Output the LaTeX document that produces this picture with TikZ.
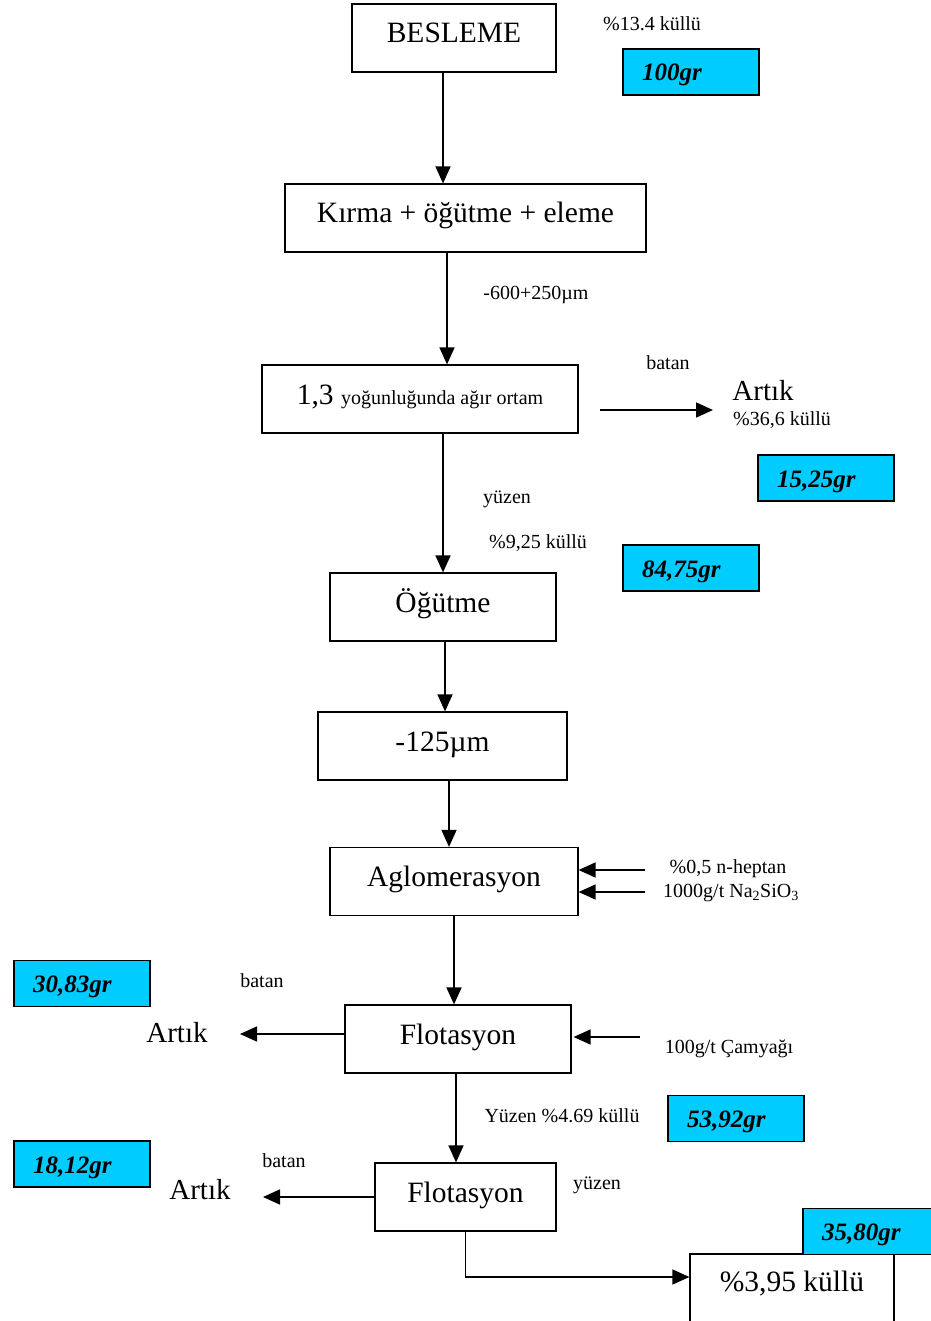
\documentclass[tikz,border=0pt]{standalone}
\usepackage{fontspec}
\setmainfont{Liberation Serif}
\usetikzlibrary{arrows.meta}
\definecolor{gcyan}{HTML}{00CCFF}

\tikzset{
  box/.style={draw, line width=1.2pt, minimum height=68pt, inner sep=0pt,
    text height=20pt, text depth=10pt, font=\fontsize{29.5}{31}\selectfont},
  wt/.style={draw, line width=1.2pt, fill=gcyan, inner xsep=19pt, inner ysep=14pt,
    text width=98pt, align=left, text height=18pt, text depth=0pt,
    font=\fontsize{25}{27}\selectfont\bfseries\itshape},
  lbl/.style={inner sep=0pt, font=\fontsize{20}{22}\selectfont},
  big/.style={inner sep=0pt, font=\fontsize{29}{31}\selectfont},
  arr/.style={-{Triangle[length=17pt,width=15pt]}, line width=1.5pt},
}

\begin{document}
\begin{tikzpicture}[x=1pt,y=-1pt]
  \useasboundingbox (0,0) rectangle (930,1321);

    % process boxes
    \node[box, minimum width=204pt] (besleme) at (454,38) {BESLEME};
    \node[box, minimum width=361pt] (kirma) at (465.5,218) {Kırma + öğütme + eleme};
    \node[box, minimum width=316pt] (agir) at (420,399)
      {1,3 {\fontsize{20}{22}\selectfont yoğunluğunda ağır ortam}};
    \node[box, minimum width=226pt] (ogutme) at (443,607) {Öğütme};
    \node[box, minimum width=249pt] (elek) at (442.5,746) {-125µm};
    \node[box, minimum width=248pt] (aglo) at (454,881.5) {Aglomerasyon};
    \node[box, minimum width=226pt] (flot1) at (458,1039) {Flotasyon};
    \node[box, minimum width=181pt] (flot2) at (465.5,1197) {Flotasyon};
    \node[box, minimum width=204pt, minimum height=70pt] (urun) at (792,1289) {\raisebox{3pt}{\%3,95 küllü}};

    % weights
    \node[wt] (w100) at (691,72) {100gr};
    \node[wt] (w1525) at (826,478) {15,25gr};
    \node[wt] (w8475) at (691,568) {84,75gr};
    \node[wt] (w3083) at (82,983.5) {30,83gr};
    \node[wt] (w5392) at (736,1118.5) {53,92gr};
    \node[wt] (w1812) at (82,1164) {18,12gr};
    \node[wt] (w3580) at (871,1231.5) {35,80gr};

    % labels
    \node[lbl] (kul0) at (652,24) {\%13.4 küllü};
    \node[lbl] (boyut) at (536,295) {-600+250µm};
    \node[lbl] (batan1) at (668,363) {batan};
    \node[big] (artik1) at (763,391) {Artık};
    \node[lbl] (kul1) at (782,420) {\%36,6 küllü};
    \node[lbl] (yuzen1) at (507,499) {yüzen};
    \node[lbl] (kul2) at (538,543) {\%9,25 küllü};
    \node[lbl] (heptan) at (728,869) {\%0,5 n-heptan};
    \node[lbl] (silikat) at (731,893) {1000g/t Na\textsubscript{2}SiO\textsubscript{3}};
    \node[lbl] (batan2) at (262,981) {batan};
    \node[big] (artik2) at (177,1033) {Artık};
    \node[lbl] (camyagi) at (729,1049) {100g/t Çamyağı};
    \node[lbl] (yuzen2) at (562,1116) {Yüzen \%4.69 küllü};
    \node[lbl] (batan3) at (284,1161) {batan};
    \node[big] (artik3) at (200,1190) {Artık};
    \node[lbl] (yuzen3) at (597,1185) {yüzen};

    \coordinate (b1s) at (600,410);
    \coordinate (b1e) at (713,410);
    \coordinate (hep) at (645,870);
    \coordinate (sil) at (645,892);
    \coordinate (b2e) at (240,1034);
    \coordinate (cam) at (640,1037);
    \coordinate (b3e) at (263,1197);

    % main line
    \draw[arr] ([xshift=-11pt]besleme.south) -- ([xshift=-22.5pt]kirma.north);
    \draw[arr] ([xshift=-18.5pt]kirma.south) -- ([xshift=27pt]agir.north);
    \draw[arr] ([xshift=23pt]agir.south) -- (ogutme.north);
    \draw[arr] ([xshift=2pt]ogutme.south) -- ([xshift=2.5pt]elek.north);
    \draw[arr] ([xshift=6.5pt]elek.south) -- ([xshift=-5pt]aglo.north);
    \draw[arr] (aglo.south) -- ([xshift=-4pt]flot1.north);
    \draw[arr] ([xshift=-2pt]flot1.south) -- ([xshift=-9.5pt]flot2.north);
    \draw[arr] (flot2.south) |- ([yshift=12pt]urun.west);

    % side streams
    \draw[arr] (b1s) -- (b1e);
    \draw[arr] (hep) -- (hep -| aglo.east);
    \draw[arr] (sil) -- (sil -| aglo.east);
    \draw[arr] ([yshift=5pt]flot1.west) -- (b2e);
    \draw[arr] (cam) -- ([xshift=2pt]cam -| flot1.east);
    \draw[arr] (flot2.west) -- (b3e);
\end{tikzpicture}
\end{document}
